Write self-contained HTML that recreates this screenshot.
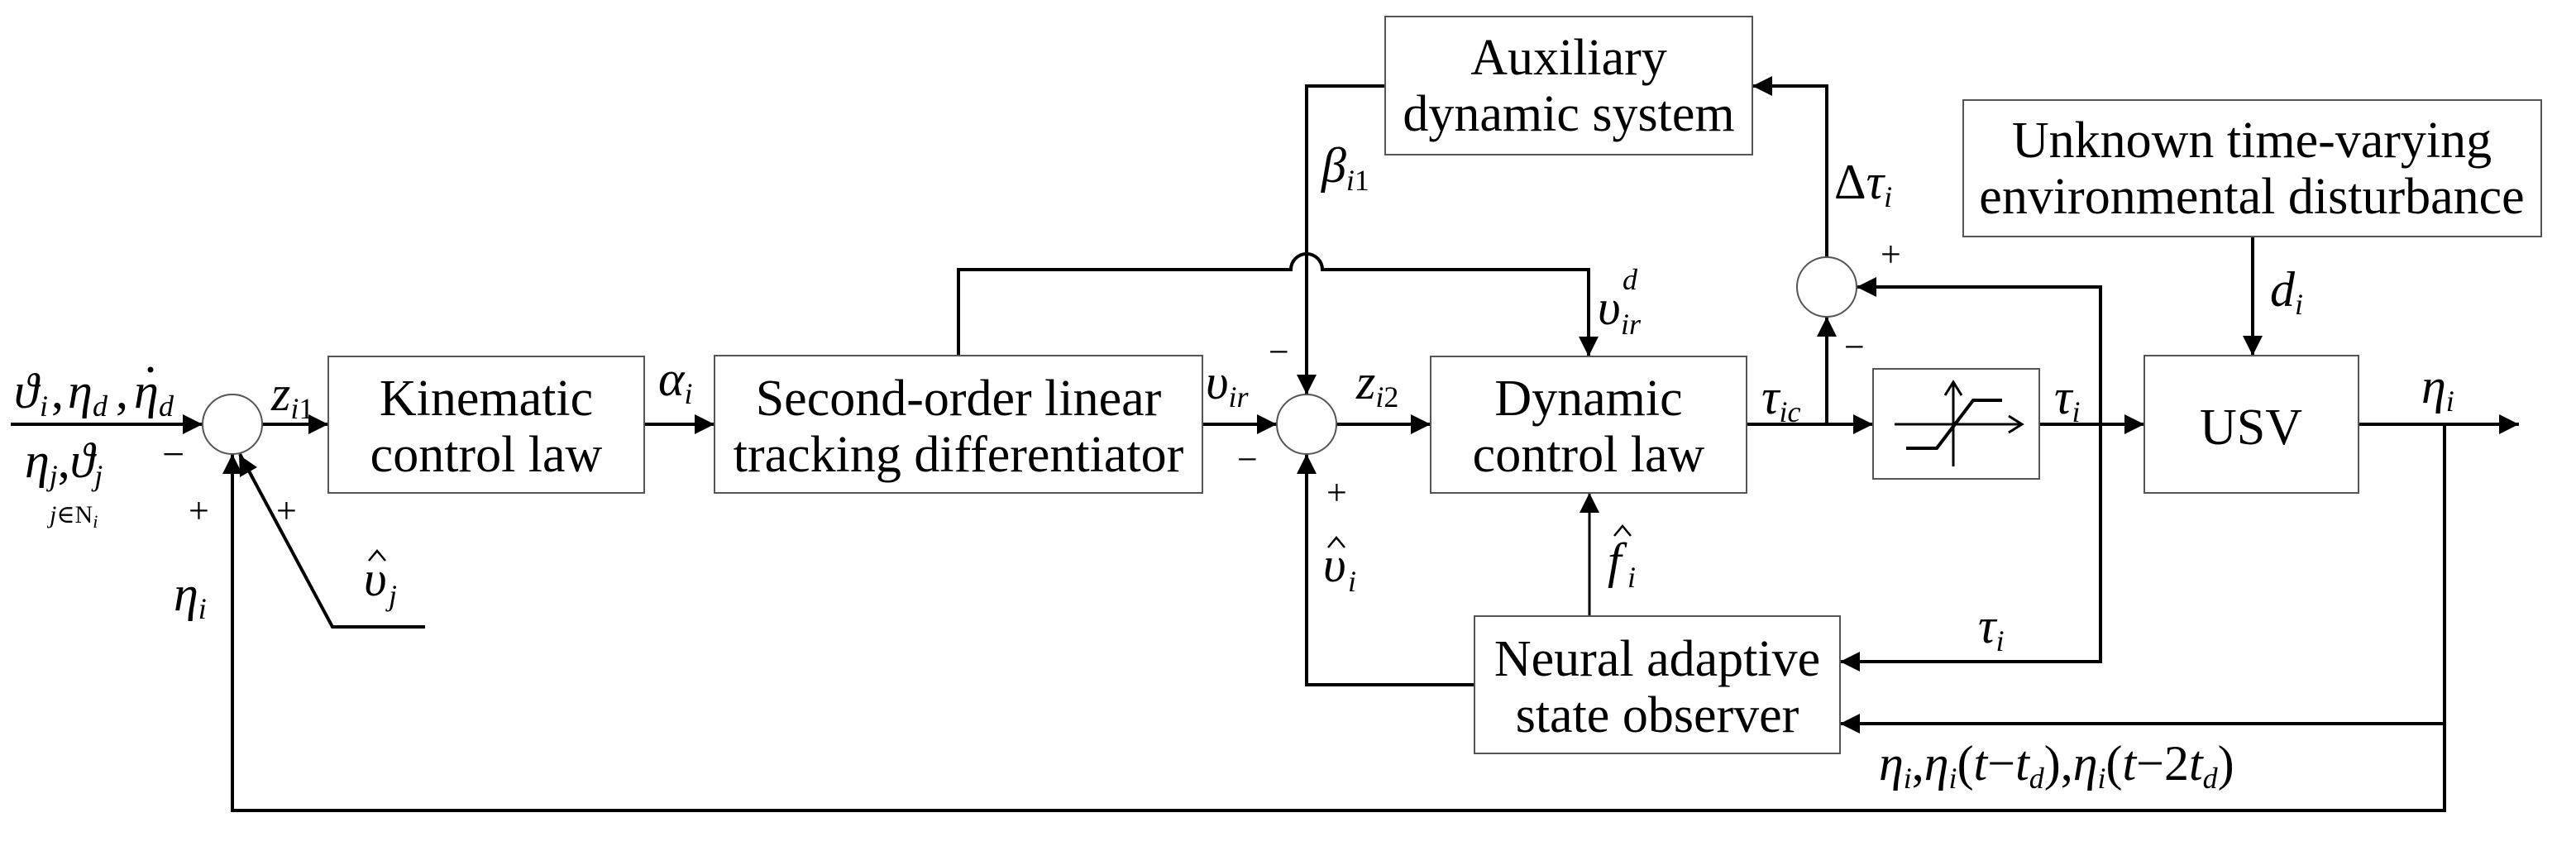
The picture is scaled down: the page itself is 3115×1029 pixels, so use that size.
<!DOCTYPE html>
<html><head><meta charset="utf-8"><style>
html,body{margin:0;padding:0;background:#fff;}
svg{display:block;}
text{font-family:"Liberation Serif","DejaVu Serif",serif;fill:#000;}
.m{font-style:italic;font-size:60px;}
.b{font-size:62px;text-anchor:middle;}
.s{font-size:36px;font-style:italic;}
.u{font-size:36px;font-style:normal;}
</style></head><body>
<svg width="3115" height="1029" viewBox="0 0 3115 1029" xmlns="http://www.w3.org/2000/svg">
<g fill="none" stroke="#000" stroke-width="4">
<path d="M13 513H245M317 513H397M779 513H864M1454 513H1544M1616 513H1730M2112 513H2265M2466 513H2593M2852 513H3046"/>
<path d="M1159 430V326H1561A19 19 0 0 1 1599 326H1921V431"/>
<path d="M1675 104H1580V477"/>
<path d="M2209 513V383M2209 311V104H2119"/>
<path d="M2540 513V347H2245M2540 513V800H2225"/>
<path d="M2724 286V430"/>
<path d="M2956 513V980H281V549M2956 875H2225"/>
<path d="M1922 745V596" stroke-width="3"/>
<path d="M1783 828H1580V549"/>
<path d="M514 758H402L290 549"/>
</g>
<g fill="#000">
<polygon points="245,513 221,501 221,525"/>
<polygon points="397,513 373,501 373,525"/>
<polygon points="864,513 840,501 840,525"/>
<polygon points="1544,513 1520,501 1520,525"/>
<polygon points="1730,513 1706,501 1706,525"/>
<polygon points="2265,513 2241,501 2241,525"/>
<polygon points="2593,513 2569,501 2569,525"/>
<polygon points="3046,513 3022,501 3022,525"/>
<polygon points="1921,431 1909,407 1933,407"/>
<polygon points="1580,477 1568,453 1592,453"/>
<polygon points="2209,383 2197,407 2221,407"/>
<polygon points="2119,104 2143,92 2143,116"/>
<polygon points="2245,347 2269,335 2269,359"/>
<polygon points="2225,800 2249,788 2249,812"/>
<polygon points="2724,430 2712,406 2736,406"/>
<polygon points="281,549 269,573 293,573"/>
<polygon points="2225,875 2249,863 2249,887"/>
<polygon points="1922,596 1910,620 1934,620"/>
<polygon points="1580,549 1568,573 1592,573"/>
<polygon points="289,550 311,565 290,577"/>
</g>
<g fill="#fff" stroke="#555" stroke-width="2">
<rect x="397" y="431" width="382" height="165"/>
<rect x="864" y="430" width="590" height="166"/>
<rect x="1675" y="20" width="444" height="167"/>
<rect x="1730" y="431" width="382" height="165"/>
<rect x="2265" y="446" width="201" height="133"/>
<rect x="2374" y="121" width="699" height="165"/>
<rect x="2593" y="430" width="259" height="166"/>
<rect x="1783" y="745" width="442" height="166"/>
<circle cx="281" cy="513" r="36"/>
<circle cx="1580" cy="513" r="36"/>
<circle cx="2209" cy="347" r="36"/>
</g>
<g fill="none" stroke="#000" stroke-width="3">
<path d="M2362 564V464M2352 478L2362 462L2372 478"/>
<path d="M2291 513H2443M2429 503L2445 513L2429 523"/>
<path d="M2305 542H2342L2386 484H2421" stroke-width="4"/>
</g>
<text class="b" x="588" y="502">Kinematic</text>
<text class="b" x="588" y="570">control law</text>
<text class="b" x="1159" y="502">Second-order linear</text>
<text class="b" x="1159" y="570">tracking differentiator</text>
<text class="b" x="1897" y="90">Auxiliary</text>
<text class="b" x="1897" y="158">dynamic system</text>
<text class="b" x="1921" y="502">Dynamic</text>
<text class="b" x="1921" y="570">control law</text>
<text class="b" x="2723" y="190">Unknown time-varying</text>
<text class="b" x="2723" y="258">environmental disturbance</text>
<text class="b" x="2722" y="537">USV</text>
<text class="b" x="2004" y="817">Neural adaptive</text>
<text class="b" x="2004" y="885">state observer</text>
<!-- input label -->
<text class="m" x="17" y="493">ϑ</text><text class="s" x="48" y="503">i</text>
<text class="m" x="62" y="493" style="font-style:normal">,</text>
<text class="m" x="82" y="493">η</text><text class="s" x="112" y="503">d</text>
<text class="m" x="140" y="493" style="font-style:normal">,</text>
<text class="m" x="162" y="493">η</text><text class="s" x="192" y="503">d</text>
<circle cx="182" cy="447" r="3.5" fill="#000"/>
<text class="m" x="30" y="577">η<tspan class="s" dy="10">j</tspan><tspan dy="-10" style="font-style:normal">,</tspan>ϑ<tspan class="s" dy="10">j</tspan></text>
<text x="60" y="632" style="font-size:30px"><tspan font-style="italic">j</tspan>∈N<tspan font-style="italic" style="font-size:22px" dy="6">i</tspan></text>
<text x="196" y="565" style="font-size:48px">−</text>
<text x="228" y="632" style="font-size:44px">+</text>
<text x="334" y="632" style="font-size:44px">+</text>
<text class="m" x="210" y="738">η<tspan class="s" dy="10">i</tspan></text>
<text class="m" x="440" y="720">υ</text><text class="s" x="470" y="732">j</text>
<path d="M446 678L456 666L466 678" fill="none" stroke="#000" stroke-width="2.5"/>
<text class="m" x="328" y="496">z<tspan class="s" dy="10">i</tspan><tspan class="u">1</tspan></text>
<text class="m" x="796" y="478">α<tspan class="s" dy="10">i</tspan></text>
<text class="m" x="1458" y="482">υ<tspan class="s" dy="10">ir</tspan></text>
<text class="m" x="1640" y="482">z<tspan class="s" dy="10">i</tspan><tspan class="u">2</tspan></text>
<text x="1534" y="440" style="font-size:44px">−</text>
<text x="1496" y="570" style="font-size:44px">−</text>
<text x="1604" y="610" style="font-size:44px">+</text>
<text class="m" x="1600" y="703">υ</text><text class="s" x="1630" y="715">i</text>
<path d="M1606 662L1616 650L1626 662" fill="none" stroke="#000" stroke-width="2.5"/>
<text class="m" x="1598" y="220">β<tspan class="s" dy="10">i</tspan><tspan class="u">1</tspan></text>
<text class="m" x="1932" y="392">υ</text><text class="s" x="1960" y="404">ir</text><text class="s" x="1962" y="350">d</text>
<text class="m" x="2130" y="500">τ<tspan class="s" dy="10">ic</tspan></text>
<text x="2218" y="240" style="font-size:60px">Δ<tspan font-style="italic">τ</tspan><tspan class="s" dy="10">i</tspan></text>
<text x="2274" y="322" style="font-size:44px">+</text>
<text x="2230" y="434" style="font-size:44px">−</text>
<text class="m" x="2484" y="500">τ<tspan class="s" dy="10">i</tspan></text>
<text class="m" x="2745" y="370">d<tspan class="s" dy="10">i</tspan></text>
<text class="m" x="2928" y="487">η<tspan class="s" dy="10">i</tspan></text>
<text class="m" x="1944" y="698">f</text><text class="s" x="1968" y="710">i</text>
<path d="M1952 648L1962 636L1972 648" fill="none" stroke="#000" stroke-width="2.5"/>
<text class="m" x="2392" y="777">τ<tspan class="s" dy="10">i</tspan></text>
<text class="m" x="2272" y="943">η<tspan class="s" dy="10">i</tspan><tspan dy="-10" style="font-style:normal">,</tspan>η<tspan class="s" dy="10">i</tspan><tspan dy="-10" style="font-style:normal">(</tspan>t<tspan style="font-style:normal">−</tspan>t<tspan class="s" dy="10">d</tspan><tspan dy="-10" style="font-style:normal">),</tspan>η<tspan class="s" dy="10">i</tspan><tspan dy="-10" style="font-style:normal">(</tspan>t<tspan style="font-style:normal">−2</tspan>t<tspan class="s" dy="10">d</tspan><tspan dy="-10" style="font-style:normal">)</tspan></text>
</svg>
</body></html>
